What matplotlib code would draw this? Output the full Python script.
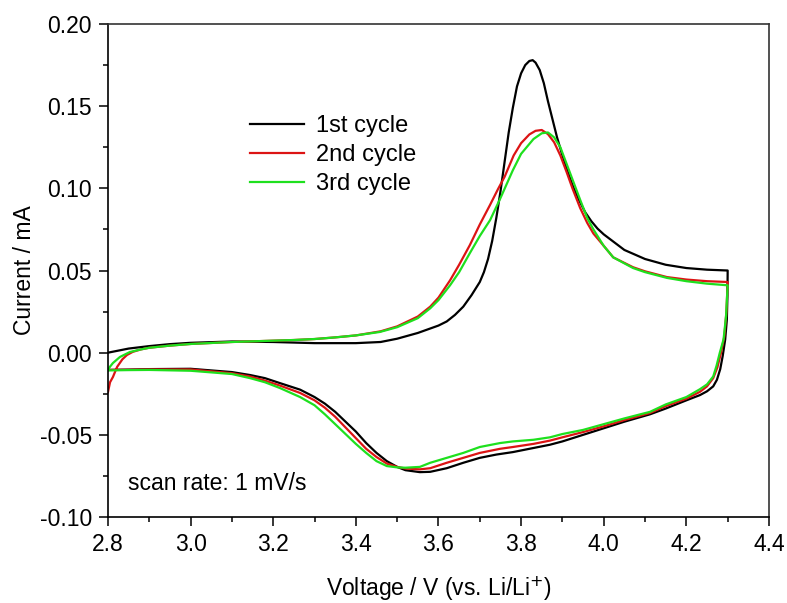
import matplotlib
matplotlib.use("Agg")
import matplotlib.pyplot as plt
from matplotlib.ticker import MultipleLocator, FormatStrFormatter

plt.rcParams["font.family"] = ["Liberation Sans", "DejaVu Sans"]
plt.rcParams["axes.unicode_minus"] = False

# cycle 1 (black) - anodic sweep 2.8 -> 4.3 V
v1_up = [2.80, 2.85, 2.90, 2.95, 3.00, 3.10, 3.20, 3.30, 3.40, 3.46, 3.50, 3.55,
         3.60, 3.62, 3.64, 3.66, 3.68, 3.70, 3.71, 3.72, 3.73, 3.74, 3.75, 3.76,
         3.77, 3.78, 3.79, 3.80, 3.81, 3.82, 3.828, 3.835, 3.845, 3.855, 3.865,
         3.875, 3.887, 3.90, 3.913, 3.926, 3.94, 3.955, 3.97, 3.985, 4.00, 4.05,
         4.10, 4.15, 4.20, 4.25, 4.30]
i1_up = [0.000, 0.0025, 0.0040, 0.0052, 0.0060, 0.0068, 0.0065, 0.0058, 0.0058,
         0.0065, 0.0085, 0.012, 0.0165, 0.019, 0.023, 0.028, 0.035, 0.043, 0.049,
         0.057, 0.068, 0.082, 0.098, 0.116, 0.134, 0.149, 0.162, 0.170, 0.175,
         0.1775, 0.178, 0.1765, 0.172, 0.164, 0.153, 0.143, 0.131, 0.120, 0.110,
         0.101, 0.093, 0.0855, 0.080, 0.0755, 0.072, 0.0625, 0.057, 0.0535,
         0.0515, 0.0505, 0.0500]
# cycle 1 - cathodic sweep 4.3 -> 2.8 V
v1_dn = [4.300, 4.2995, 4.298, 4.294, 4.288, 4.282, 4.274, 4.265, 4.25, 4.233,
         4.20, 4.15, 4.112, 4.05, 4.00, 3.95, 3.90, 3.87, 3.83, 3.80, 3.78, 3.74,
         3.70, 3.66, 3.62, 3.58, 3.555, 3.52, 3.50, 3.475, 3.45, 3.425, 3.40,
         3.375, 3.35, 3.325, 3.30, 3.265, 3.216, 3.18, 3.144, 3.10, 3.00, 2.90,
         2.85, 2.80]
i1_dn = [0.050, 0.035, 0.020, 0.008, -0.002, -0.010, -0.0165, -0.0205, -0.0235,
         -0.0258, -0.029, -0.034, -0.0375, -0.042, -0.046, -0.050, -0.054,
         -0.056, -0.058, -0.0595, -0.0605, -0.062, -0.064, -0.067, -0.0703,
         -0.0725, -0.0727, -0.0715, -0.0695, -0.066, -0.061, -0.055, -0.048,
         -0.042, -0.036, -0.031, -0.027, -0.0225, -0.0185, -0.0155, -0.0136,
         -0.0118, -0.0098, -0.0100, -0.0103, -0.0105]

# cycle 2 (red)
v2_up = [2.800, 2.805, 2.812, 2.822, 2.835, 2.846, 2.86, 2.88, 2.90, 2.95, 3.00,
         3.10, 3.20, 3.25, 3.30, 3.35, 3.40, 3.46, 3.50, 3.55, 3.58, 3.60, 3.628,
         3.65, 3.676, 3.70, 3.725, 3.744, 3.76, 3.782, 3.80, 3.82, 3.835, 3.85,
         3.865, 3.88, 3.895, 3.91, 3.925, 3.943, 3.96, 3.975, 4.00, 4.023, 4.071,
         4.10, 4.153, 4.20, 4.25, 4.30]
i2_up = [-0.024, -0.018, -0.0148, -0.0087, -0.004, -0.0014, 0.0005, 0.002, 0.003,
         0.0043, 0.0053, 0.0065, 0.0073, 0.0077, 0.0083, 0.0093, 0.0105, 0.0130,
         0.016, 0.022, 0.028, 0.0335, 0.044, 0.0535, 0.0655, 0.078, 0.090, 0.0995,
         0.107, 0.120, 0.1275, 0.1328, 0.135, 0.1355, 0.133, 0.128, 0.120, 0.110,
         0.0995, 0.088, 0.079, 0.0725, 0.065, 0.058, 0.052, 0.0495, 0.046,
         0.0445, 0.0435, 0.043]
v2_dn = [4.300, 4.297, 4.292, 4.284, 4.275, 4.265, 4.25, 4.233, 4.20, 4.15, 4.112,
         4.05, 4.00, 3.95, 3.90, 3.87, 3.83, 3.78, 3.749, 3.70, 3.66, 3.62, 3.58,
         3.555, 3.52, 3.50, 3.475, 3.45, 3.425, 3.40, 3.375, 3.35, 3.325, 3.30,
         3.265, 3.216, 3.18, 3.144, 3.10, 3.00, 2.90, 2.85, 2.80]
i2_dn = [0.043, 0.025, 0.010, 0.000, -0.009, -0.0155, -0.0205, -0.0238, -0.028,
         -0.0325, -0.0367, -0.041, -0.0448, -0.0483, -0.0515, -0.0535, -0.0555,
         -0.0574, -0.0585, -0.061, -0.064, -0.067, -0.0703, -0.071, -0.0705,
         -0.0695, -0.0675, -0.0635, -0.0585, -0.052, -0.0455, -0.039, -0.0335,
         -0.029, -0.0245, -0.020, -0.017, -0.0145, -0.0125, -0.0102, -0.0102,
         -0.0104, -0.0105]

# cycle 3 (green)
v3_up = [2.800, 2.805, 2.812, 2.829, 2.853, 2.88, 2.90, 2.95, 3.00, 3.10, 3.20,
         3.25, 3.30, 3.35, 3.40, 3.458, 3.50, 3.55, 3.58, 3.60, 3.628, 3.65,
         3.676, 3.70, 3.725, 3.749, 3.78, 3.80, 3.83, 3.85, 3.865, 3.88, 3.895,
         3.91, 3.925, 3.943, 3.96, 3.975, 4.00, 4.023, 4.071, 4.10, 4.153, 4.20,
         4.25, 4.30]
i3_up = [-0.0105, -0.0085, -0.0063, -0.0026, 0.0004, 0.002, 0.003, 0.0043,
         0.0053, 0.0065, 0.0073, 0.0077, 0.0083, 0.0093, 0.0105, 0.0126, 0.0155,
         0.021, 0.027, 0.032, 0.041, 0.049, 0.0606, 0.071, 0.0807, 0.0935, 0.111,
         0.121, 0.130, 0.1335, 0.134, 0.131, 0.125, 0.115, 0.105, 0.093, 0.082,
         0.075, 0.065, 0.058, 0.0515, 0.049, 0.0455, 0.0435, 0.042, 0.041]
v3_dn = [4.300, 4.296, 4.290, 4.281, 4.273, 4.265, 4.25, 4.233, 4.20, 4.15, 4.112,
         4.05, 4.00, 3.95, 3.90, 3.87, 3.83, 3.78, 3.749, 3.70, 3.66, 3.62, 3.58,
         3.555, 3.52, 3.50, 3.475, 3.45, 3.425, 3.40, 3.375, 3.35, 3.325, 3.30,
         3.265, 3.216, 3.18, 3.144, 3.10, 3.00, 2.90, 2.85, 2.80]
i3_dn = [0.041, 0.022, 0.008, 0.000, -0.008, -0.0145, -0.0193, -0.0222, -0.027,
         -0.0315, -0.036, -0.040, -0.0435, -0.047, -0.0495, -0.0515, -0.053,
         -0.054, -0.055, -0.0574, -0.061, -0.064, -0.067, -0.0695, -0.070,
         -0.0698, -0.069, -0.066, -0.061, -0.0555, -0.0495, -0.0435, -0.0375,
         -0.032, -0.027, -0.0215, -0.018, -0.0155, -0.013, -0.011, -0.0105,
         -0.0106, -0.0108]

labels = ["1st cycle", "2nd cycle", "3rd cycle"]
colors = ["#000000", "#dc1414", "#1ee01e"]

fig = plt.figure(figsize=(7.87, 6.03), dpi=100)
ax = fig.add_axes([0.1372, 0.1426, 0.8399, 0.8176])

cycles = [(v1_up, i1_up, v1_dn, i1_dn),
          (v2_up, i2_up, v2_dn, i2_dn),
          (v3_up, i3_up, v3_dn, i3_dn)]
for (vu, iu, vd, idn), lab, c in zip(cycles, labels, colors):
    ax.plot(vu + vd, iu + idn, color=c, lw=1.6, label=lab)

ax.set_xlim(2.8, 4.4)
ax.set_ylim(-0.10, 0.20)
ax.xaxis.set_major_locator(MultipleLocator(0.2))
ax.xaxis.set_minor_locator(MultipleLocator(0.1))
ax.yaxis.set_major_locator(MultipleLocator(0.05))
ax.yaxis.set_minor_locator(MultipleLocator(0.025))
ax.xaxis.set_major_formatter(FormatStrFormatter("%.1f"))
ax.yaxis.set_major_formatter(FormatStrFormatter("%.2f"))
ax.tick_params(which="major", direction="out", length=6.5, width=1.1,
               labelsize=16.5, pad=5)
ax.tick_params(which="minor", direction="out", length=3.5, width=1.1)
for s in ax.spines.values():
    s.set_linewidth(1.2)
ax.spines["top"].set_color("#333333")
ax.spines["right"].set_color("#333333")

ax.set_xlabel("Voltage / V (vs. Li/Li$^{+}$)", fontsize=16.5, labelpad=13)
ax.set_ylabel("Current / mA", fontsize=16.5, labelpad=2.5)

ax.legend(loc="upper left", bbox_to_anchor=(0.2, 0.835), frameon=False,
          fontsize=17, handlelength=2.3, handletextpad=0.5, labelspacing=0.3,
          borderaxespad=0)
ax.text(0.03, 0.055, "scan rate: 1 mV/s", transform=ax.transAxes,
        fontsize=16.5, va="baseline")

fig.savefig("out.png", dpi=100)
